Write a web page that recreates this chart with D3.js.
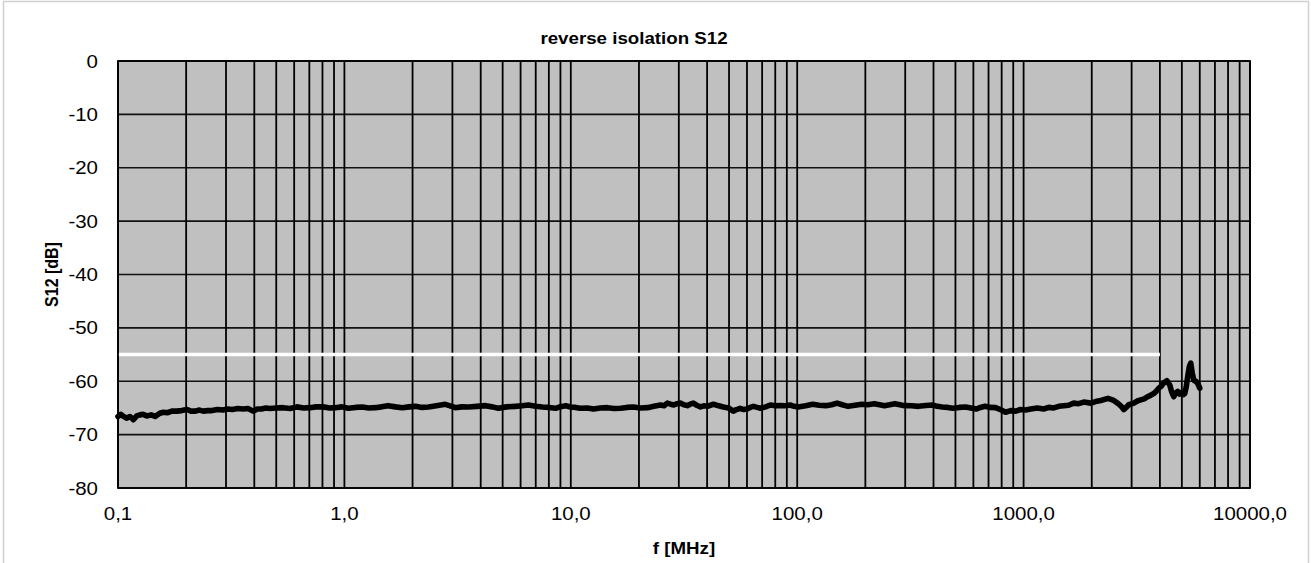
<!DOCTYPE html>
<html>
<head>
<meta charset="utf-8">
<script src="https://cdn.jsdelivr.net/npm/d3@7"></script>
<style>
  html, body { margin: 0; padding: 0; background: #fff; }
  svg { display: block; font-family: "Liberation Sans", Arial, sans-serif; }
</style>
</head>
<body>
<svg id="chart" width="1311" height="563"></svg>
<script>
// Measured sweep: reverse isolation S12 versus frequency
const freqMHz = [
  0.100, 0.103, 0.105, 0.109, 0.113, 0.117, 0.121, 0.125, 0.129, 0.134,
  0.140, 0.146, 0.153, 0.159, 0.165, 0.173, 0.182, 0.191, 0.202, 0.210,
  0.220, 0.229, 0.238, 0.249, 0.260, 0.275, 0.291, 0.305, 0.320, 0.338,
  0.357, 0.375, 0.395, 0.412, 0.430, 0.450, 0.469, 0.500, 0.536, 0.575,
  0.617, 0.660, 0.705, 0.750, 0.805, 0.860, 0.912, 0.975, 1.04, 1.12,
  1.20, 1.28, 1.37, 1.46, 1.56, 1.68, 1.80, 1.93, 2.06, 2.20,
  2.35, 2.55, 2.79, 2.93, 3.09, 3.30, 3.53, 3.85, 4.20, 4.50,
  4.79, 5.20, 5.70, 6.10, 6.50, 7.00, 7.49, 8.00, 8.57, 9.00,
  9.50, 9.97, 10.5, 11.0, 11.8, 12.6, 13.5, 14.5, 15.5, 16.6,
  17.7, 18.9, 20.3, 21.8, 23.3, 24.9, 25.8, 26.7, 27.6, 28.5,
  29.5, 30.6, 31.6, 32.7, 33.7, 34.8, 36.0, 37.4, 38.7, 40.1,
  41.4, 42.7, 45.0, 47.2, 49.7, 52.2, 54.0, 56.0, 58.0, 60.0,
  62.0, 64.1, 66.5, 68.9, 72.5, 76.1, 80.0, 84.3, 88.9, 93.0,
  97.0, 101, 109, 117, 125, 134, 142, 150, 158, 168,
  180, 193, 205, 219, 231, 243, 256, 270, 284, 298,
  320, 343, 370, 396, 415, 437, 462, 487, 520, 555,
  585, 617, 645, 675, 712, 752, 790, 832, 877, 923,
  971, 1020, 1075, 1150, 1226, 1290, 1359, 1430, 1504, 1580,
  1665, 1750, 1844, 1981, 2080, 2193, 2357, 2502, 2600, 2687,
  2770, 2840, 2913, 3067, 3180, 3290, 3410, 3533, 3650, 3756,
  3850, 3955, 4060, 4161, 4290, 4423, 4510, 4605, 4700, 4794,
  4890, 4992, 5070, 5148, 5230, 5309, 5400, 5475, 5560, 5646,
  5760, 5877, 6000
];
const s12dB = [
  -66.6, -66.2, -66.5, -66.9, -66.6, -67.2, -66.5, -66.3, -66.2, -66.5,
  -66.3, -66.6, -66.0, -65.8, -65.9, -65.6, -65.6, -65.5, -65.3, -65.6,
  -65.6, -65.4, -65.6, -65.5, -65.5, -65.3, -65.4, -65.2, -65.3, -65.1,
  -65.2, -65.1, -65.6, -65.2, -65.2, -65.0, -65.1, -65.0, -64.95, -65.1,
  -64.8, -65.0, -64.95, -64.8, -64.8, -65.0, -64.95, -64.8, -65.07, -64.9,
  -64.82, -65.0, -64.95, -64.8, -64.57, -64.8, -64.95, -64.8, -64.7, -64.9,
  -64.82, -64.6, -64.32, -64.6, -64.95, -64.8, -64.82, -64.7, -64.57, -64.8,
  -65.07, -64.8, -64.7, -64.6, -64.45, -64.7, -64.82, -64.9, -65.07, -64.76,
  -64.6, -64.82, -64.9, -65.07, -65.0, -65.2, -65.0, -64.95, -65.1, -65.07,
  -64.9, -64.82, -65.0, -64.95, -64.7, -64.45, -64.6, -64.1, -64.3, -64.45,
  -64.2, -64.1, -64.4, -64.57, -64.3, -64.1, -64.5, -64.82, -64.6, -64.7,
  -64.5, -64.3, -64.6, -64.82, -65.0, -65.6, -65.3, -65.07, -65.3, -65.2,
  -64.9, -64.7, -64.9, -65.07, -64.8, -64.45, -64.6, -64.57, -64.6, -64.45,
  -64.7, -64.82, -64.6, -64.32, -64.5, -64.57, -64.4, -64.1, -64.4, -64.7,
  -64.5, -64.32, -64.4, -64.2, -64.4, -64.57, -64.4, -64.2, -64.4, -64.57,
  -64.6, -64.7, -64.55, -64.45, -64.7, -64.82, -64.9, -65.07, -64.9, -64.82,
  -65.0, -65.2, -64.9, -64.7, -64.9, -64.95, -65.3, -65.8, -65.5, -65.6,
  -65.3, -65.4, -65.2, -65.0, -65.2, -64.9, -65.0, -64.7, -64.6, -64.5,
  -64.1, -64.2, -63.9, -64.1, -63.8, -63.6, -63.2, -63.6, -64.1, -64.6,
  -65.3, -64.9, -64.4, -64.1, -63.7, -63.5, -63.3, -62.9, -62.6, -62.3,
  -61.9, -61.3, -60.9, -60.3, -59.9, -60.7, -62.0, -62.9, -62.2, -61.9,
  -62.4, -62.1, -62.5, -62.3, -61.0, -59.1, -57.2, -56.6, -58.5, -59.8,
  -60.0, -60.4, -61.3
];

// Limit line (white) and its frequency span
const limitDB = -55;
const limitFreqMHz = [0.1, 4000];

// Axes
const xDecades = [0.1, 1, 10, 100, 1000, 10000];
const xTickLabels = ["0,1", "1,0", "10,0", "100,0", "1000,0", "10000,0"];
const yTicks = [0, -10, -20, -30, -40, -50, -60, -70, -80];
const yDomain = [-80, 0];

const chartTitle = "reverse isolation S12";
const xTitle = "f [MHz]";
const yTitle = "S12 [dB]";

// ---- layout ----
const plot = { left: 118, right: 1250, top: 61, bottom: 488 };
const textStretch = 1.17;

const svg = d3.select("#chart");

const x = d3.scaleLog().domain([xDecades[0], xDecades[xDecades.length - 1]])
  .range([plot.left, plot.right]);
const y = d3.scaleLinear().domain(yDomain).range([plot.bottom, plot.top]);

// outer frame
svg.append("rect")
  .attr("x", 3.5).attr("y", 1.5)
  .attr("width", 1305).attr("height", 600)
  .attr("fill", "#fff").attr("stroke", "#d0d0d0").attr("stroke-width", 1.5);

// plot background
svg.append("rect")
  .attr("x", plot.left).attr("y", plot.top)
  .attr("width", plot.right - plot.left).attr("height", plot.bottom - plot.top)
  .attr("fill", "#c0c0c0");

// horizontal grid lines
svg.append("g")
  .selectAll("line").data(yTicks).join("line")
  .attr("x1", plot.left).attr("x2", plot.right)
  .attr("y1", d => y(d)).attr("y2", d => y(d))
  .attr("stroke", "#111").attr("stroke-width", 1.6);

// vertical grid lines: 1..9 in each decade
const gridFreqs = [];
xDecades.slice(0, -1).forEach(d => {
  for (let k = 1; k <= 9; k++) gridFreqs.push(d * k);
});
gridFreqs.push(xDecades[xDecades.length - 1]);
svg.append("g")
  .selectAll("line").data(gridFreqs).join("line")
  .attr("x1", d => x(d)).attr("x2", d => x(d))
  .attr("y1", plot.top).attr("y2", plot.bottom)
  .attr("stroke", "#000").attr("stroke-width", 1.8);

// limit line
svg.append("line")
  .attr("x1", x(limitFreqMHz[0])).attr("x2", x(limitFreqMHz[1]))
  .attr("y1", y(limitDB)).attr("y2", y(limitDB))
  .attr("stroke", "#fff").attr("stroke-width", 3.5);

// measured curve
const sweep = freqMHz.map((f, i) => ({ f, v: s12dB[i] }));
svg.append("path")
  .datum(sweep)
  .attr("d", d3.line().x(d => x(d.f)).y(d => y(d.v)))
  .attr("fill", "none")
  .attr("stroke", "#000")
  .attr("stroke-width", 5.6)
  .attr("stroke-linejoin", "round")
  .attr("stroke-linecap", "round");

// plot border
svg.append("rect")
  .attr("x", plot.left).attr("y", plot.top)
  .attr("width", plot.right - plot.left).attr("height", plot.bottom - plot.top)
  .attr("fill", "none").attr("stroke", "#000").attr("stroke-width", 1.8);

// tick labels
svg.append("g")
  .selectAll("text").data(yTicks).join("text")
  .attr("transform", d => `translate(${plot.left - 20},${y(d) + 6.5}) scale(${textStretch},1)`)
  .attr("text-anchor", "end")
  .attr("font-size", 17.5)
  .attr("fill", "#000")
  .text(d => d3.format("d")(d).replace("−", "-"));

svg.append("g")
  .selectAll("text").data(xDecades).join("text")
  .attr("transform", d => `translate(${x(d)},${plot.bottom + 32}) scale(${textStretch},1)`)
  .attr("text-anchor", "middle")
  .attr("font-size", 17.5)
  .attr("fill", "#000")
  .text((d, i) => xTickLabels[i]);

// titles
svg.append("text")
  .attr("transform", `translate(${634},${44}) scale(${textStretch},1)`)
  .attr("text-anchor", "middle")
  .attr("font-size", 16).attr("font-weight", "bold")
  .text(chartTitle);

svg.append("text")
  .attr("transform", `translate(${684},${554}) scale(${textStretch},1)`)
  .attr("text-anchor", "middle")
  .attr("font-size", 16).attr("font-weight", "bold")
  .text(xTitle);

svg.append("text")
  .attr("transform", `translate(${58},${(plot.top + plot.bottom) / 2}) scale(${textStretch},1) rotate(-90)`)
  .attr("text-anchor", "middle")
  .attr("font-size", 16).attr("font-weight", "bold")
  .text(yTitle);
</script>
</body>
</html>
